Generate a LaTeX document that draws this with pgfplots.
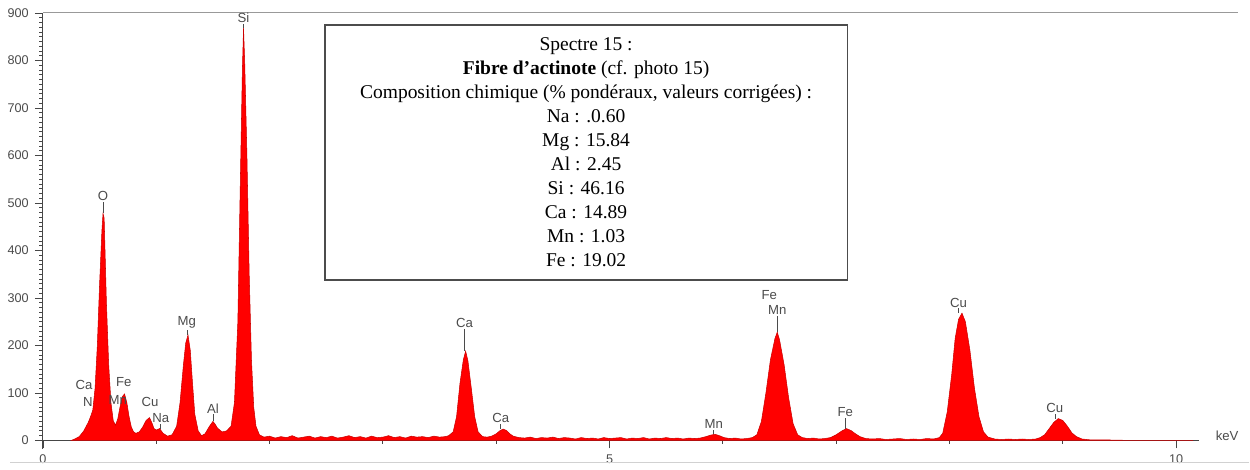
\documentclass[border=0pt]{standalone}
\usepackage{fontspec}
\setmainfont{Liberation Sans}
\newfontfamily\timesfont{Liberation Serif}
\usepackage{pgfplots}
\usepackage{pgfplotstable}
\pgfplotsset{compat=1.18}

\definecolor{spec}{RGB}{255,0,0}
\definecolor{specedge}{RGB}{205,0,0}
\definecolor{axgray}{RGB}{70,70,70}
\definecolor{lblgray}{RGB}{75,75,75}

\tikzset{
  lbl/.style={font=\fontsize{7.5}{8}\selectfont, text=lblgray, inner sep=0.5pt},
  leader/.style={lblgray, line width=0.4pt},
}

% spectre EDS, energie (keV) / coups
\pgfplotstableread{
kev counts
0.25 0
0.28 3
0.32 8
0.36 20
0.40 38
0.42 50
0.44 64
0.46 110
0.48 200
0.50 330
0.52 440
0.53 478
0.54 468
0.55 380
0.56 290
0.58 160
0.60 80
0.62 42
0.64 32
0.66 45
0.68 70
0.70 92
0.72 98
0.74 80
0.76 50
0.78 28
0.80 18
0.82 15
0.85 18
0.88 28
0.91 42
0.94 48
0.96 38
0.98 25
1.00 22
1.03 25
1.06 15
1.10 9
1.14 12
1.18 30
1.21 80
1.24 160
1.26 205
1.28 222
1.30 190
1.32 120
1.34 55
1.37 20
1.40 10
1.43 14
1.47 30
1.50 40
1.52 34
1.54 26
1.58 18
1.62 20
1.66 30
1.69 80
1.72 250
1.74 520
1.76 780
1.77 868
1.78 800
1.80 600
1.82 350
1.84 170
1.86 70
1.88 30
1.91 12
1.95 7
2.00 9
2.05 5
2.10 8
2.15 6
2.20 10
2.25 5
2.30 7
2.35 9
2.40 5
2.45 8
2.50 6
2.55 9
2.60 5
2.65 7
2.70 10
2.75 6
2.80 8
2.85 5
2.90 9
2.95 6
3.00 7
3.05 10
3.10 6
3.15 8
3.20 5
3.25 9
3.30 7
3.35 8
3.40 6
3.45 9
3.50 7
3.55 8
3.58 10
3.62 18
3.65 50
3.68 120
3.71 170
3.73 188
3.75 168
3.78 110
3.81 50
3.84 18
3.88 8
3.92 7
3.96 9
4.00 14
4.03 20
4.06 24
4.09 21
4.12 14
4.15 9
4.20 6
4.25 5
4.30 7
4.35 4
4.40 6
4.45 5
4.50 7
4.55 4
4.60 6
4.65 5
4.70 3
4.75 6
4.80 4
4.85 5
4.90 3
4.95 6
5.00 4
5.05 5
5.10 6
5.15 3
5.20 5
5.25 4
5.30 6
5.35 3
5.40 5
5.45 4
5.50 6
5.55 4
5.60 5
5.65 3
5.70 5
5.75 4
5.80 5
5.85 8
5.89 11
5.93 13
5.97 10
6.01 6
6.06 4
6.11 5
6.16 3
6.21 4
6.26 6
6.30 12
6.34 40
6.38 100
6.42 170
6.46 215
6.48 228
6.50 212
6.54 160
6.58 90
6.62 35
6.66 12
6.70 6
6.75 4
6.80 5
6.85 3
6.90 4
6.95 6
7.00 12
7.05 20
7.09 25
7.13 21
7.17 14
7.21 8
7.26 4
7.32 3
7.38 4
7.44 2
7.50 3
7.56 4
7.62 2
7.68 3
7.74 2
7.80 4
7.86 3
7.91 6
7.94 15
7.98 60
8.02 140
8.05 215
8.08 255
8.11 268
8.14 250
8.18 190
8.22 110
8.26 50
8.30 18
8.34 7
8.40 3
8.46 2
8.52 3
8.58 2
8.64 3
8.70 2
8.76 3
8.80 6
8.84 12
8.88 25
8.92 38
8.96 46
9.00 42
9.04 30
9.08 16
9.12 8
9.17 3
9.25 1
9.40 1
9.60 0
10.15 0
}\spectrum

\begin{document}
\begin{tikzpicture}
\begin{axis}[
    x=2.268cm, y=0.009511cm,
    xmin=0, xmax=10.2, ymin=0, ymax=900,
    axis x line=bottom, axis y line=left,
    axis line style={-, axgray, line width=0.6pt},
    clip=false,
    xtick={0,5,10}, ytick={0,100,...,900},
    minor x tick num=4, minor y tick num=9,
    tick align=outside,
    major tick length=0.16cm, minor tick length=0.07cm,
    tick style={axgray, line width=0.5pt},
    every tick label/.append style={font=\fontsize{7.2}{8}\selectfont, text=lblgray},
    /pgf/number format/assume math mode=true,
]
% cadre : fixe les proportions de l'image
\path (axis cs:-0.379,-52.6) rectangle (axis cs:10.644,927.3);
\draw[black!40, line width=0.6pt] (axis cs:0,900) -- (axis cs:10.55,900);
\draw[black!18, line width=1pt] (axis cs:-0.29,-46.3) -- (axis cs:10.644,-46.3);
\draw[axgray, line width=0.6pt] (axis cs:0,0) -- (axis cs:0,-18);

\addplot[fill=spec, draw=specedge, line width=0.3pt] table[x=kev, y=counts] {\spectrum} \closedcycle;

% raies identifiees
\draw[leader] (axis cs:1.77,868) -- (axis cs:1.77,877) node[above, lbl] {Si};
\draw[leader] (axis cs:0.53,478) -- (axis cs:0.53,502) node[above, lbl] {O};
\draw[leader] (axis cs:1.27,222) -- (axis cs:1.27,233) node[above, lbl] {Mg};
\draw[leader] (axis cs:3.72,188) -- (axis cs:3.72,235) node[above, lbl] {Ca};
\draw[leader] (axis cs:4.04,24) -- (axis cs:4.04,34) node[above, lbl] {Ca};
\draw[leader] (axis cs:5.92,13) -- (axis cs:5.92,23) node[above, lbl] {Mn};
\draw[leader] (axis cs:6.48,228) -- (axis cs:6.48,263) node[above, lbl] {Mn};
\node[lbl] at (axis cs:6.41,307) {Fe};
\draw[leader] (axis cs:7.08,25) -- (axis cs:7.08,48) node[above, lbl] {Fe};
\draw[leader] (axis cs:8.08,268) -- (axis cs:8.08,278) node[above, lbl] {Cu};
\draw[leader] (axis cs:8.93,46) -- (axis cs:8.93,55) node[above, lbl] {Cu};
\draw[leader] (axis cs:1.50,40) -- (axis cs:1.50,55) node[above, lbl] {Al};
\draw[leader] (axis cs:1.04,25) -- (axis cs:1.04,34) node[above, lbl] {Na};
\node[lbl] at (axis cs:0.944,80) {Cu};
\node[lbl] at (axis cs:0.714,122) {Fe};
\node[lbl] at (axis cs:0.661,86) {Mn};
\node[lbl] at (axis cs:0.362,116) {Ca};
\node[lbl] at (axis cs:0.397,80) {N};
\node[lbl] at (axis cs:10.45,10.5) {keV};

\node[draw=black!70, line width=0.9pt, fill=white, minimum width=10.46cm, minimum height=5.1cm,
      align=center, font=\timesfont\fontsize{11.1}{13.7}\selectfont] at (axis cs:4.793,606.6)
  {Spectre 15 :\\
   \textbf{Fibre d’actinote} (cf. photo 15)\\
   Composition chimique (\% pondéraux, valeurs corrigées) :\\
   Na : .0.60\\
   Mg : 15.84\\
   Al : 2.45\\
   Si : 46.16\\
   Ca : 14.89\\
   Mn : 1.03\\
   Fe : 19.02};
\end{axis}
\end{tikzpicture}
\end{document}
